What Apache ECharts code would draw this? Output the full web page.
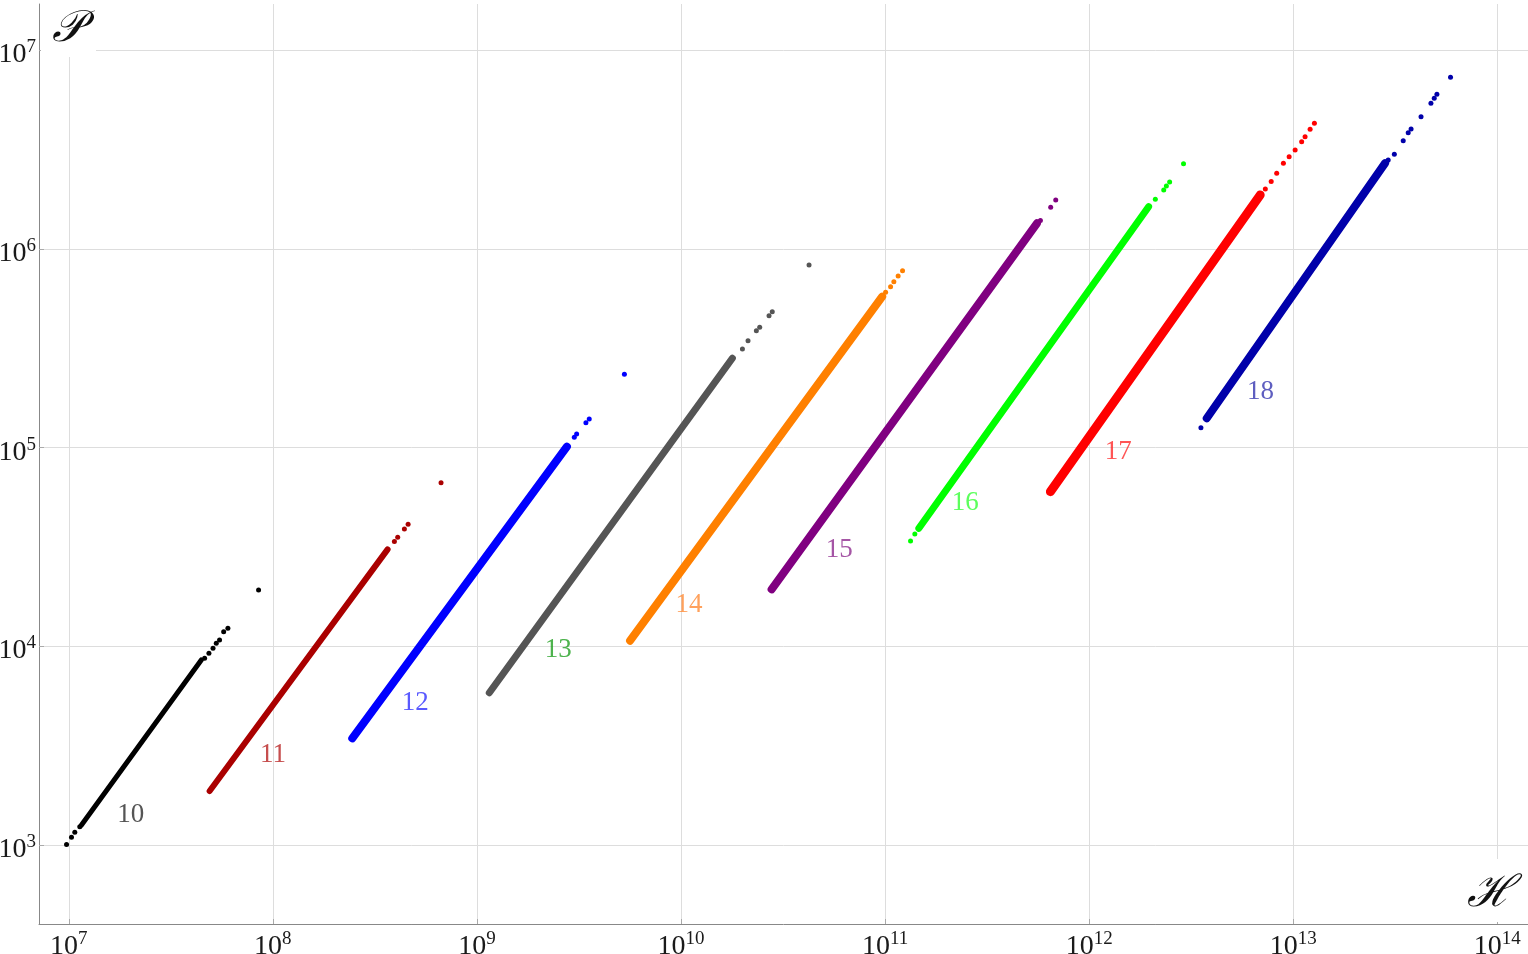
<!DOCTYPE html>
<html><head><meta charset="utf-8">
<script src="https://cdn.jsdelivr.net/npm/echarts@6/dist/echarts.min.js"></script>
<style>html,body{margin:0;padding:0;background:#fff}#chart{width:1528px;height:954px}</style>
</head><body><div id="chart"></div>
<script>
// ---- data (log-log: H on x, P on y) ----
const seriesNames = ['10','11','12','13','14','15','16','17','18'];

// dense part of each family (drawn as a thick band through these read points)
const band10 = [[1.154e7,1265],[4.46e7,8553]];
const band11 = [[4.90e7,1876],[3.65e8,3.08e4]];
const band12 = [[2.45e8,3453],[2.76e9,1.012e5]];
const band13 = [[1.150e9,5857],[1.785e10,2.817e5]];
const band14 = [[5.63e9,1.070e4],[9.68e10,5.75e5]];
const band15 = [[2.78e10,1.94e4],[5.55e11,1.345e6]];
const band16 = [[1.464e11,3.93e4],[1.956e12,1.631e6]];
const band17 = [[6.46e11,6.01e4],[6.89e12,1.867e6]];
const band18 = [[3.77e12,1.406e5],[2.82e13,2.70e6]];

// isolated points (sparse ends and outliers)
const dots10 = [[9.75e6,1010],[1.031e7,1097],[1.070e7,1162],[1.132e7,1240],
  [4.63e7,8720],[4.86e7,9243],[5.09e7,9793],[5.28e7,1.038e4],[5.48e7,1.078e4],[5.74e7,1.187e4],[6.02e7,1.234e4],
  [8.51e7,1.924e4]];
const dots11 = [[3.94e8,3.37e4],[4.09e8,3.54e4],[4.41e8,3.90e4],[4.60e8,4.12e4],[6.67e8,6.67e4]];
const dots12 = [[3.00e9,1.128e5],[3.08e9,1.172e5],[3.42e9,1.336e5],[3.55e9,1.394e5],[5.28e9,2.34e5]];
const dots13 = [[2.00e10,3.14e5],[2.13e10,3.45e5],[2.34e10,3.88e5],[2.43e10,4.03e5],[2.70e10,4.61e5],[2.80e10,4.83e5],[4.24e10,8.30e5]];
const dots14 = [[1.006e11,6.05e5],[1.064e11,6.45e5],[1.104e11,6.84e5],[1.159e11,7.31e5],[1.218e11,7.77e5]];
const dots15 = [[5.77e11,1.389e6],[6.48e11,1.619e6],[6.86e11,1.762e6]];
const dots16 = [[1.333e11,3.39e4],[1.399e11,3.68e4],[2.11e12,1.777e6],[2.32e12,1.978e6],[2.39e12,2.07e6],[2.48e12,2.17e6],[2.90e12,2.68e6]];
const dots17 = [[7.3e12,2.0e6],[7.8e12,2.18e6],[8.3e12,2.4e6],[8.95e12,2.70e6],[9.55e12,2.91e6],[1.022e13,3.14e6],[1.100e13,3.46e6],[1.143e13,3.67e6],[1.210e13,4.00e6],[1.270e13,4.28e6]];
const dots18 = [[3.53e12,1.260e5],[2.92e13,2.80e6],[3.13e13,2.99e6],[3.46e13,3.50e6],[3.66e13,3.84e6],[3.78e13,4.01e6],
  [4.23e13,4.62e6],[4.73e13,5.40e6],[4.91e13,5.72e6],[5.06e13,6.00e6],[5.90e13,7.30e6]];

// where each family's number label sits (data coordinates)
const labelAnchors = [[2.01e7,1429],[1.002e8,2862],[4.99e8,5228],[2.50e9,9603],[1.095e10,1.617e4],
  [5.96e10,3.05e4],[2.47e11,5.27e4],[1.39e12,9.55e4],[6.91e12,1.906e5]];

// ---- styling ----
const bands = [band10,band11,band12,band13,band14,band15,band16,band17,band18];
const dots  = [dots10,dots11,dots12,dots13,dots14,dots15,dots16,dots17,dots18];
const colors = ['#000000','#aa0000','#0000ff','#555555','#ff8000','#800080','#00ff00','#ff0000','#0000aa'];
const labelColors = ['#2a2a2a','#b82222','#3030ff','#22a022','#ff8a33','#8e2a8e','#33ff33','#ff2a2a','#3636b0'];
const bandWidths = [5,6,8,7,8,8,7,9,8];
const FONT = 'Liberation Serif';

const series = [];
for (let i = 0; i < seriesNames.length; i++) {
  series.push({
    type: 'line', data: bands[i], symbol: 'none', silent: true, z: 2,
    lineStyle: { color: colors[i], width: bandWidths[i], cap: 'round', join: 'round' }
  });
  series.push({
    type: 'scatter', data: dots[i], symbol: 'circle', symbolSize: 5, silent: true, z: 3,
    itemStyle: { color: colors[i], opacity: 1 }
  });
  series.push({
    type: 'scatter', data: [labelAnchors[i]], symbolSize: 0, silent: true, z: 4,
    label: { show: true, position: 'inside', formatter: seriesNames[i],
      color: labelColors[i], fontSize: 27, fontFamily: FONT }
  });
}

const labelFormatter = v => '{b|10}{s|' + Math.round(Math.log10(v)) + '}';
const rich = {
  b: { fontSize: 28, fontFamily: FONT, color: '#1a1a1a', lineHeight: 34 },
  s: { fontSize: 19, fontFamily: FONT, color: '#1a1a1a', lineHeight: 17, verticalAlign: 'top' }
};

const chart = echarts.init(document.getElementById('chart'), null, { renderer: 'canvas' });
chart.setOption({
  animation: false,
  backgroundColor: '#ffffff',
  grid: { left: 39, right: 0, top: 4, bottom: 30, containLabel: false, outerBoundsMode: 'none' },
  xAxis: {
    type: 'log', logBase: 10,
    min: Math.pow(10, 6.854), max: Math.pow(10, 14.1505),
    axisLine: { show: true, onZero: false, lineStyle: { color: '#888888', width: 1 } },
    axisTick: { show: true, inside: true, length: 5, lineStyle: { color: '#aaaaaa' } },
    splitLine: { show: true, showMinLine: false, showMaxLine: false, lineStyle: { color: '#dddddd', width: 1 } },
    minorTick: { show: false }, minorSplitLine: { show: false },
    axisLabel: { show: true, showMinLabel: false, showMaxLabel: false, margin: 2,
      formatter: labelFormatter, rich: rich, padding: [4,0,0,0] }
  },
  yAxis: {
    type: 'log', logBase: 10,
    min: Math.pow(10, 2.6041), max: Math.pow(10, 7.2319),
    axisLine: { show: true, onZero: false, lineStyle: { color: '#888888', width: 1 } },
    axisTick: { show: true, inside: true, length: 5, lineStyle: { color: '#aaaaaa' } },
    splitLine: { show: true, showMinLine: false, showMaxLine: false, lineStyle: { color: '#dddddd', width: 1 } },
    minorTick: { show: false }, minorSplitLine: { show: false },
    axisLabel: { show: true, showMinLabel: false, showMaxLabel: false, margin: 3,
      formatter: labelFormatter, rich: rich, padding: [9,0,0,0] }
  },
  graphic: [
    { type: 'rect', z: 100, shape: { x: 41, y: 0, width: 55, height: 57 }, style: { fill: '#ffffff' } },
    { type: 'text', z: 101, style: { text: '𝒫', x: 68, y: 30, fontSize: 44, fontFamily: 'DejaVu Serif',
      fontStyle: 'italic', fill: '#111111', align: 'center', verticalAlign: 'middle' } },
    { type: 'rect', z: 100, shape: { x: 1458, y: 859, width: 70, height: 63 }, style: { fill: '#ffffff' } },
    { type: 'text', z: 101, style: { text: 'ℋ', x: 1490, y: 895, fontSize: 44, fontFamily: 'DejaVu Serif',
      fontStyle: 'italic', fill: '#111111', align: 'center', verticalAlign: 'middle' } }
  ],
  series: series
});
</script></body></html>
